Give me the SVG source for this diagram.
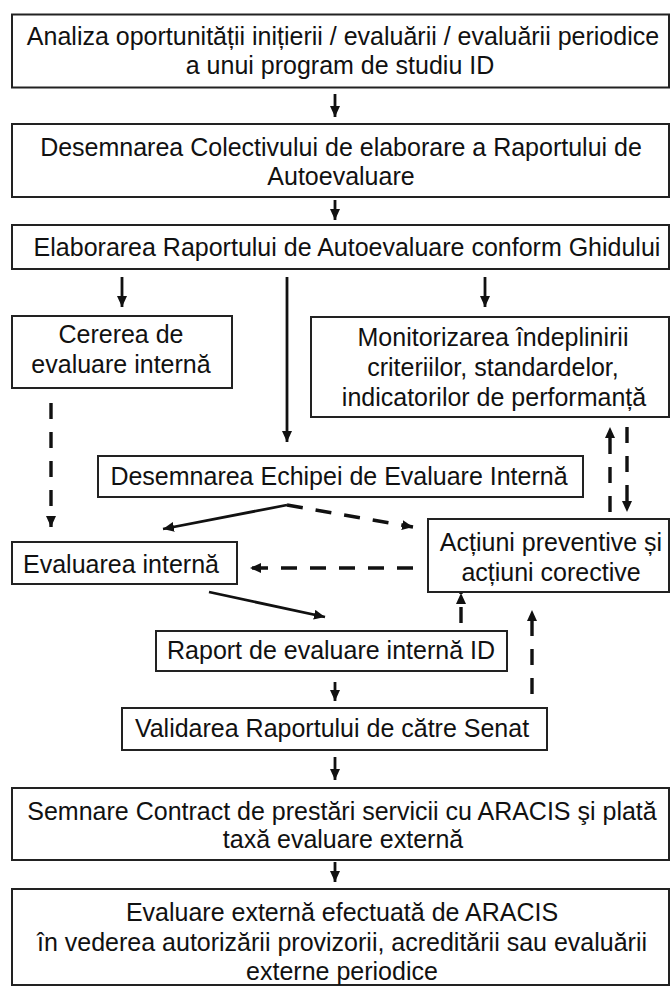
<svg xmlns="http://www.w3.org/2000/svg" width="671" height="987" viewBox="0 0 671 987">
<style>
.box{fill:#fff;stroke:#222;stroke-width:2}
text{font-family:"Liberation Sans",Arial,sans-serif;font-size:25px;fill:#111;text-anchor:middle}
.c{fill:none;stroke:#111;stroke-width:2.8}
.d{stroke-width:3.4;stroke-dasharray:16 13}
</style>
<defs>
<marker id="ah" markerUnits="userSpaceOnUse" markerWidth="12" markerHeight="10" refX="11" refY="5" orient="auto">
<path d="M0,0 L11,5 L0,10 z" fill="#111"/>
</marker>
</defs>
<rect width="671" height="987" fill="#fff"/>
<g id="connectors">
<line class="c" x1="335" y1="94" x2="335" y2="117" marker-end="url(#ah)"/>
<line class="c" x1="335" y1="200" x2="335" y2="220" marker-end="url(#ah)"/>
<line class="c" x1="122" y1="277" x2="122" y2="307" marker-end="url(#ah)"/>
<line class="c" x1="287" y1="277" x2="287" y2="442" marker-end="url(#ah)"/>
<line class="c" x1="485" y1="277" x2="485" y2="307" marker-end="url(#ah)"/>
<line class="c d" x1="51" y1="403" x2="51" y2="527" marker-end="url(#ah)"/>
<polyline class="c" points="287,505 163,529" marker-end="url(#ah)"/>
<polyline class="c d" points="287,505 413,527" marker-end="url(#ah)"/>
<line class="c d" x1="413" y1="568" x2="250" y2="568" marker-end="url(#ah)"/>
<line class="c" x1="209" y1="592" x2="325" y2="617" marker-end="url(#ah)"/>
<line class="c d" x1="461" y1="623" x2="461" y2="593" marker-end="url(#ah)"/>
<line class="c d" x1="532" y1="694" x2="532" y2="610" marker-end="url(#ah)"/>
<line class="c d" x1="610" y1="512" x2="610" y2="427" marker-end="url(#ah)"/>
<line class="c d" x1="627" y1="427" x2="627" y2="512" marker-end="url(#ah)"/>
<line class="c" x1="335" y1="682" x2="335" y2="701" marker-end="url(#ah)"/>
<line class="c" x1="335" y1="757" x2="335" y2="780" marker-end="url(#ah)"/>
<line class="c" x1="335" y1="862" x2="335" y2="882" marker-end="url(#ah)"/>
</g>
<g id="n1"><rect class="box" x="12" y="14.5" width="657" height="73"/>
<text x="343" y="45">Analiza oportunității inițierii / evaluării / evaluării periodice</text>
<text x="340" y="74">a unui program de studiu ID</text></g>
<g id="n2"><rect class="box" x="12" y="124" width="657" height="73"/>
<text x="341" y="156">Desemnarea Colectivului de elaborare a Raportului de</text>
<text x="341" y="185">Autoevaluare</text></g>
<g id="n3"><rect class="box" x="12" y="225" width="657" height="44"/>
<text x="347" y="256">Elaborarea Raportului de Autoevaluare conform Ghidului</text></g>
<g id="n4"><rect class="box" x="12" y="316" width="220" height="72"/>
<text x="121" y="343">Cererea de</text>
<text x="121" y="373">evaluare internă</text></g>
<g id="n5"><rect class="box" x="311" y="317" width="358" height="100"/>
<text x="493" y="346">Monitorizarea îndeplinirii</text>
<text x="493" y="376">criteriilor, standardelor,</text>
<text x="494" y="406">indicatorilor de performanță</text></g>
<g id="n6"><rect class="box" x="98" y="456" width="485" height="41"/>
<text x="339" y="485">Desemnarea Echipei de Evaluare Internă</text></g>
<g id="n7"><rect class="box" x="12" y="542" width="225" height="42"/>
<text x="121" y="573">Evaluarea internă</text></g>
<g id="n8"><rect class="box" x="428" y="519" width="241" height="73"/>
<text x="551" y="551">Acțiuni preventive și</text>
<text x="551" y="581">acțiuni corective</text></g>
<g id="n9"><rect class="box" x="156" y="631" width="351" height="40"/>
<text x="331" y="659">Raport de evaluare internă ID</text></g>
<g id="n10"><rect class="box" x="122" y="708" width="425" height="42"/>
<text x="332" y="737">Validarea Raportului de către Senat</text></g>
<g id="n11"><rect class="box" x="12" y="788" width="657" height="72"/>
<text x="342" y="820">Semnare Contract de prestări servicii cu ARACIS şi plată</text>
<text x="343" y="848">taxă evaluare externă</text></g>
<g id="n12"><rect class="box" x="12" y="889" width="657" height="96"/>
<text x="342" y="921">Evaluare externă efectuată de ARACIS</text>
<text x="342" y="951">în vederea autorizării provizorii, acreditării sau evaluării</text>
<text x="342" y="980">externe periodice</text></g>
</svg>
